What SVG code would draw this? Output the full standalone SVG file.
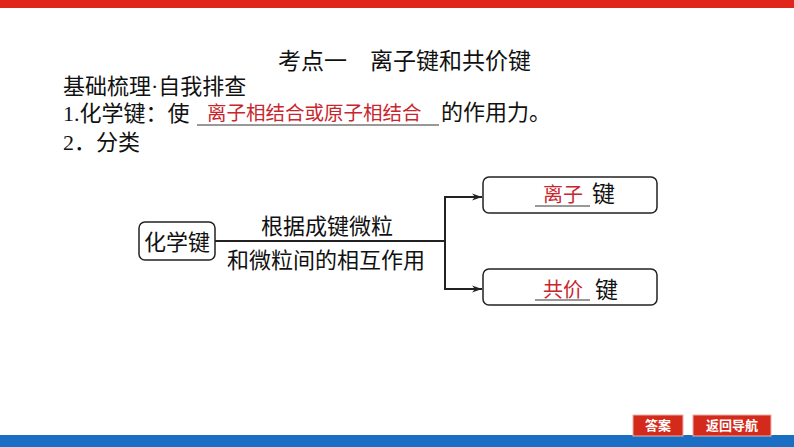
<svg xmlns="http://www.w3.org/2000/svg" width="794" height="447" viewBox="0 0 794 447">
<style>
.t{font-family:"Liberation Serif","Noto Sans CJK SC",serif;fill:#111;}
.r{font-family:"Noto Sans CJK SC",sans-serif;fill:#c8262e;}
.box{fill:#fff;stroke:#222;stroke-width:1.5;}
.ln{stroke:#222;stroke-width:2;fill:none;}
.ul{stroke:#333;stroke-width:1;}
.btn{fill:#d42a1c;stroke:#f0b0a8;stroke-width:1;}
.bt{font-family:"Noto Sans CJK SC",sans-serif;fill:#fff;font-size:13px;font-weight:bold;}
</style>
<defs>
<marker id="ar" markerWidth="10" markerHeight="8" refX="10" refY="4" orient="auto" markerUnits="userSpaceOnUse">
<path d="M0,0.5 L10,4 L0,7.5 L3,4 Z" fill="#222"/>
</marker>
</defs>
<rect x="0" y="0" width="794" height="8" fill="#e0261c"/>
<rect x="0" y="435" width="794" height="12" fill="#1a6fc4"/>
<text class="t" x="278" y="69" font-size="23">考点一　离子键和共价键</text>
<text class="t" x="63" y="94" font-size="22">基础梳理·自我排查</text>
<text class="t" x="63" y="121" font-size="22">1.化学键：使</text>
<line class="ul" x1="197" y1="125" x2="439" y2="125"/>
<text class="r" x="207" y="120" font-size="19.5">离子相结合或原子相结合</text>
<text class="t" x="441" y="120" font-size="22">的作用力。</text>
<text class="t" x="63" y="150" font-size="22">2．分类</text>
<g id="connectors">
<line class="ln" x1="215" y1="241" x2="445" y2="241"/>
<polyline class="ln" points="445,241 445,197 482,197" marker-end="url(#ar)"/>
<polyline class="ln" points="445,241 445,289 482,289" marker-end="url(#ar)"/>
<text class="t" x="327" y="234" font-size="22" text-anchor="middle">根据成键微粒</text>
<text class="t" x="326" y="268" font-size="22" text-anchor="middle">和微粒间的相互作用</text>
</g>
<g id="n-hxj">
<rect class="box" x="139" y="222" width="76" height="38" rx="6"/>
<text class="t" x="177" y="250" font-size="22" text-anchor="middle">化学键</text>
</g>
<g id="n-lzj">
<rect class="box" x="483" y="177" width="174" height="36" rx="6"/>
<line class="ul" x1="535" y1="206" x2="590" y2="206"/>
<text class="r" x="543" y="202" font-size="20">离子</text>
<text class="t" x="592" y="202" font-size="23">键</text>
</g>
<g id="n-gjj">
<rect class="box" x="483" y="269" width="174" height="36" rx="6"/>
<line class="ul" x1="535" y1="300" x2="590" y2="300"/>
<text class="r" x="543" y="297" font-size="20">共价</text>
<text class="t" x="595" y="298" font-size="23">键</text>
</g>
<g id="btn-answer">
<rect class="btn" x="633" y="415" width="50" height="21"/>
<text class="bt" x="658" y="430" text-anchor="middle">答案</text>
</g>
<g id="btn-back">
<rect class="btn" x="693" y="415" width="78" height="21"/>
<text class="bt" x="732" y="430" text-anchor="middle">返回导航</text>
</g>
</svg>
